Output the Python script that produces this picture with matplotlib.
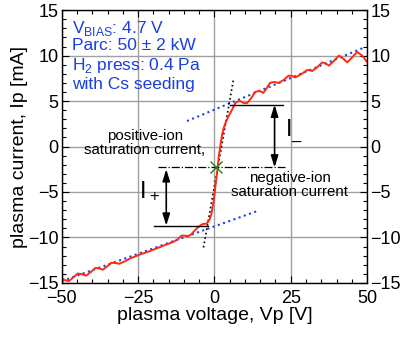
import matplotlib
matplotlib.use("Agg")
import matplotlib.pyplot as plt
from matplotlib.ticker import MultipleLocator

plt.rcParams['font.family'] = ['Liberation Sans', 'DejaVu Sans']
plt.rcParams['mathtext.fontset'] = 'custom'
plt.rcParams['mathtext.rm'] = 'Liberation Sans'

# measured I-V curve
vp = [-50.2, -49.0, -47.7, -46.3, -44.8, -43.4, -42.0, -40.5, -39.0, -37.8, -36.6, -35.2,
      -33.9, -32.5, -31.2, -29.5, -27.9, -25.0, -21.2, -17.9, -13.6, -12.0, -10.8, -9.7,
      -8.7, -7.6, -6.5, -5.4, -4.3, -3.5, -2.7, -1.9, -1.1, -0.3, 0.3, 0.9, 1.4, 2.0, 2.5,
      3.0, 3.6, 4.4, 5.2, 6.0, 6.8, 7.6, 8.4, 9.5, 10.6, 12.0, 13.3, 14.4, 15.2, 16.0, 17.1,
      18.2, 19.5, 21.0, 22.6, 24.3, 25.4, 26.5, 28.4, 30.3, 31.2, 32.0, 33.6, 35.3, 36.4,
      37.5, 39.1, 40.8, 42.1, 43.5, 45.1, 46.8, 48.4, 50.0]
ip = [-14.45, -14.7, -14.8, -14.4, -13.97, -14.05, -14.2, -13.8, -13.35, -13.4, -13.55, -13.2,
      -12.8, -12.8, -12.9, -12.65, -12.35, -11.95, -11.5, -11.06, -10.5, -10.2, -9.8, -9.8,
      -9.9, -9.65, -9.25, -8.9, -8.6, -8.5, -8.5, -8.2, -7.6, -6.1, -4.4, -2.8, -1.1, 0.2, 1.3,
      2.0, 2.6, 3.2, 3.7, 4.2, 4.75, 4.95, 5.0, 4.8, 4.75, 5.3, 6.0, 6.1, 6.05, 5.9, 6.4, 7.0,
      7.1, 7.0, 7.3, 7.8, 7.75, 7.6, 7.95, 8.4, 8.4, 8.3, 8.7, 9.25, 9.15, 8.9, 9.4, 10.0,
      9.7, 9.25, 9.8, 10.4, 10.0, 9.3]

# fitted lines
fit_neg_x = [-9.0, 49.5]
fit_neg_y = [2.8, 10.95]
fit_pos_x = [-50.0, 14.0]
fit_pos_y = [-14.8, -7.1]
slope_x = [-3.6, 6.3]
slope_y = [-11.1, 7.5]

# characteristic levels
v_float = 0.5
i_float = -2.3
i_neg_level = 4.6
i_pos_level = -8.7

fig = plt.figure(figsize=(4.02, 3.38), dpi=100)
ax = fig.add_axes([0.154, 0.163, 0.759, 0.807])

ax.set_xlim(-50, 50)
ax.set_ylim(-15, 15)
ax.grid(True, color='#a0a0a0', linewidth=1.0)
ax.set_axisbelow(True)

ax.plot(fit_neg_x, fit_neg_y, color='#2040e0', linestyle=':', linewidth=1.5)
ax.plot(fit_pos_x, fit_pos_y, color='#2040e0', linestyle=':', linewidth=1.5)
ax.plot(slope_x, slope_y, color='black', linestyle=':', linewidth=1.2)
ax.plot(vp, ip, color='#ff2a10', linewidth=1.4)

ax.plot([5.0, 22.6], [i_neg_level, i_neg_level], color='black', linewidth=1.0)
ax.plot([-19.7, -2.0], [i_pos_level, i_pos_level], color='black', linewidth=1.0)
ax.plot([-18.5, 23.0], [i_float, i_float], color='black', linewidth=0.9, linestyle='-.')
ax.plot([v_float], [i_float], marker='x', color='#208020', markersize=8, mew=1.0)

arrowprops = dict(arrowstyle='<|-|>,head_length=0.7,head_width=0.22', color='black',
                  lw=1.2, shrinkA=0, shrinkB=0)
ax.annotate('', xy=(-15.8, i_float - 0.2), xytext=(-15.8, i_pos_level), arrowprops=arrowprops)
ax.annotate('', xy=(19.7, i_neg_level), xytext=(19.7, i_float), arrowprops=arrowprops)

ax.text(-24.8, -4.9, r'$\mathregular{I_+}$', fontsize=17, ha='left', va='center')
ax.text(23.0, 1.65, r'$\mathregular{I_{\_}}$', fontsize=17, ha='left', va='center')

ax.text(-22.8, 1.2, 'positive-ion', fontsize=10.8, ha='center', va='center')
ax.text(-23.0, -0.35, 'saturation current,', fontsize=10.8, ha='center', va='center')
ax.text(24.8, -3.45, 'negative-ion', fontsize=10.8, ha='center', va='center')
ax.text(24.6, -5.0, 'saturation current', fontsize=10.8, ha='center', va='center')

blue = '#1a3ee0'
ax.text(-46.8, 13.0, r'V$_{\mathregular{BIAS}}$: 4.7 V', fontsize=12.5, color=blue, va='center')
ax.text(-46.8, 11.1, 'Parc: 50 ± 2 kW', fontsize=12.5, color=blue, va='center')
ax.text(-46.8, 8.95, r'H$_{\mathregular{2}}$ press: 0.4 Pa', fontsize=12.5, color=blue, va='center')
ax.text(-46.8, 6.8, 'with Cs seeding', fontsize=12.5, color=blue, va='center')

ax.xaxis.set_major_locator(MultipleLocator(25))
ax.xaxis.set_minor_locator(MultipleLocator(5))
ax.yaxis.set_major_locator(MultipleLocator(5))
ax.yaxis.set_minor_locator(MultipleLocator(1))
ax.tick_params(which='both', direction='in', top=True, right=True, labelright=True,
               labelsize=13, width=0.8)
ax.tick_params(which='major', length=5)
ax.tick_params(axis='y', which='major', pad=2.5)
ax.tick_params(axis='x', which='major', pad=5)
ax.tick_params(which='minor', length=3)
for s in ax.spines.values():
    s.set_linewidth(1.0)

ax.set_xlabel('plasma voltage, Vp [V]', fontsize=14, labelpad=0)
ax.set_ylabel('plasma current, Ip [mA]', fontsize=14, labelpad=0)

fig.savefig('out.png', dpi=100)
